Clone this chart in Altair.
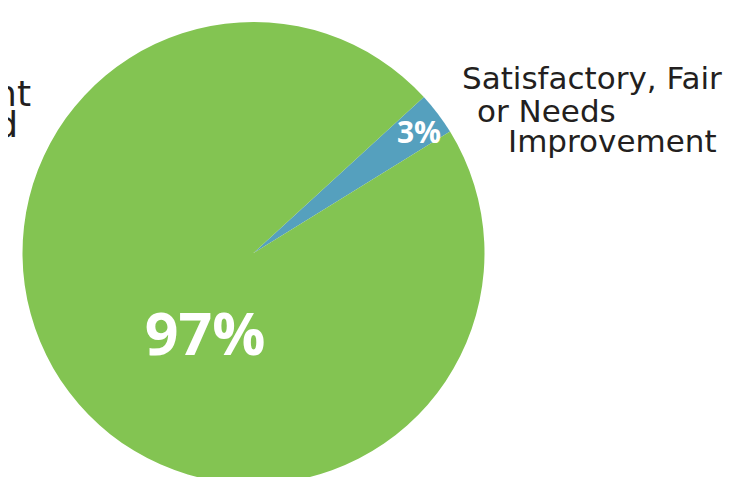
import math
import altair as alt
import pandas as pd

# ---- data ----
categories = ["Satisfactory, Fair or Needs Improvement", "Excellent or Good"]
values = [3, 97]
pct_labels = ["3%", "97%"]
slice_order = [0, 1]
colors = ["#55A0BE", "#83C452"]

right_label_lines = ["Satisfactory, Fair", "or Needs", "Improvement"]
left_label_lines = ["Excellent", "or Good"]

df = pd.DataFrame({
    "category": categories,
    "value": values,
    "label": pct_labels,
    "order": slice_order,
})

# ---- layout ----
CX, CY, R = 245.5, 245, 231
START = math.radians(47.5)
TEXT_COLOR = "#231F20"

theta = alt.Theta("value:Q", stack=True,
                  scale=alt.Scale(range=[START, START + 2 * math.pi]))
color = alt.Color("category:N",
                  scale=alt.Scale(domain=categories, range=colors),
                  legend=None)
order = alt.Order("order:Q")

base = alt.Chart(df)

pie = base.mark_arc(radius=R, stroke=None).encode(
    theta=theta, color=color, order=order,
    x=alt.value(CX), y=alt.value(CY),
)

small_pct = base.transform_filter(alt.datum.order == 0).mark_text(
    radius=205, font="Open Sans", fontWeight="bold", fontSize=30,
    color="white", align="center", baseline="middle", dx=2, dy=5,
).encode(theta=theta, order=order, text="label:N",
         x=alt.value(CX), y=alt.value(CY))

big_pct = base.transform_filter(alt.datum.order == 1).mark_text(
    radius=96, font="Open Sans", fontWeight="bold", fontSize=59,
    color="white", align="center", baseline="middle", dx=16, dy=13,
).encode(theta=theta, order=order, text="label:N",
         x=alt.value(CX), y=alt.value(CY))

layers = [pie, small_pct, big_pct]

right_pos = [(454, 81), (469, 114), (500, 144)]
for line, (lx, ly) in zip(right_label_lines, right_pos):
    layers.append(
        alt.Chart(pd.DataFrame({"t": [line]})).mark_text(
            font="DejaVu Sans", fontSize=31, color=TEXT_COLOR,
            align="left", baseline="alphabetic",
        ).encode(text="t:N", x=alt.value(lx), y=alt.value(ly))
    )

left_pos = [(23, 98), (10, 129)]
for line, (lx, ly) in zip(left_label_lines, left_pos):
    layers.append(
        alt.Chart(pd.DataFrame({"t": [line]})).mark_text(
            font="DejaVu Sans", fontSize=36, color=TEXT_COLOR,
            align="right", baseline="alphabetic",
        ).encode(text="t:N", x=alt.value(lx), y=alt.value(ly))
    )

chart = alt.layer(*layers).properties(
    width=721, height=469, padding=0,
    autosize=alt.AutoSizeParams(type="none"),
    background="white",
).configure_view(stroke=None)

chart.save("out.html", embed_options={"renderer": "svg", "actions": False})
